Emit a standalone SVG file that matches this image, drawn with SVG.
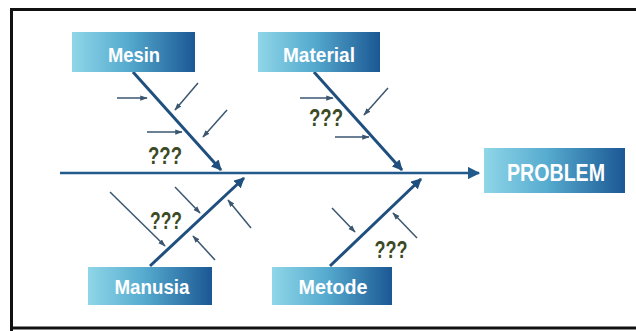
<svg xmlns="http://www.w3.org/2000/svg" width="636" height="331" viewBox="0 0 636 331">
  <style>
    .box { stroke: none; }
    .label { font-family: "Liberation Sans", Arial, sans-serif; font-weight: bold; fill: #ffffff; text-anchor: middle; }
    .q { font-family: "Liberation Sans", Arial, sans-serif; font-weight: bold; font-size: 23px; fill: #3c4a26; text-anchor: middle; }
    .spine { stroke: #235a8c; stroke-width: 2.5; fill: none; }
    .bone { stroke: #1f4f7e; stroke-width: 3; fill: none; }
    .twig { stroke: #3a5670; stroke-width: 1.5; fill: none; }
  </style>
  <defs>
    <linearGradient id="boxFill" x1="0" y1="0" x2="1" y2="0">
      <stop offset="0" stop-color="#8fd6e8"/>
      <stop offset="0.45" stop-color="#56abcf"/>
      <stop offset="1" stop-color="#1b5894"/>
    </linearGradient>
    <marker id="headBig" viewBox="0 0 10 10" refX="9" refY="5" markerWidth="3.5" markerHeight="3.5" orient="auto">
      <path d="M0,0 L10,5 L0,10 z" fill="#1f4f7e"/>
    </marker>
    <marker id="headSpine" viewBox="0 0 10 10" refX="9" refY="5" markerWidth="5" markerHeight="5" orient="auto">
      <path d="M0,0 L10,5 L0,10 z" fill="#235a8c"/>
    </marker>
    <marker id="headSmall" viewBox="0 0 10 10" refX="9" refY="5" markerWidth="5" markerHeight="5" orient="auto">
      <path d="M0,1.5 L10,5 L0,8.5 z" fill="#3a5670"/>
    </marker>
  </defs>

  <rect x="0" y="0" width="636" height="331" fill="#ffffff"/>
  <!-- frame -->
  <path d="M11.5,331 L11.5,9.5 L636,9.5 M11.5,328 L636,328" stroke="#111111" stroke-width="3" fill="none"/>

  <!-- connectors -->
  <g id="connectors">
    <line class="spine" x1="60" y1="173" x2="479" y2="173" marker-end="url(#headSpine)"/>
    <!-- Mesin bone -->
    <line class="bone" x1="133" y1="72" x2="221" y2="170" marker-end="url(#headBig)"/>
    <line class="twig" x1="117" y1="98" x2="147" y2="98" marker-end="url(#headSmall)"/>
    <line class="twig" x1="147" y1="132" x2="182" y2="132" marker-end="url(#headSmall)"/>
    <line class="twig" x1="198" y1="83" x2="175" y2="110" marker-end="url(#headSmall)"/>
    <line class="twig" x1="227" y1="110" x2="203" y2="137" marker-end="url(#headSmall)"/>
    <!-- Material bone -->
    <line class="bone" x1="314" y1="72" x2="402" y2="170" marker-end="url(#headBig)"/>
    <line class="twig" x1="300" y1="98" x2="333" y2="98" marker-end="url(#headSmall)"/>
    <line class="twig" x1="335" y1="137" x2="369" y2="137" marker-end="url(#headSmall)"/>
    <line class="twig" x1="388" y1="88" x2="364" y2="115" marker-end="url(#headSmall)"/>
    <!-- Manusia bone -->
    <line class="bone" x1="150" y1="266" x2="244" y2="178" marker-end="url(#headBig)"/>
    <line class="twig" x1="110" y1="192" x2="165" y2="246" marker-end="url(#headSmall)"/>
    <line class="twig" x1="175" y1="187" x2="200" y2="213" marker-end="url(#headSmall)"/>
    <line class="twig" x1="251" y1="228" x2="228" y2="200" marker-end="url(#headSmall)"/>
    <line class="twig" x1="215" y1="260" x2="193" y2="236" marker-end="url(#headSmall)"/>
    <!-- Metode bone -->
    <line class="bone" x1="330" y1="266" x2="421" y2="179" marker-end="url(#headBig)"/>
    <line class="twig" x1="332" y1="208" x2="355" y2="232" marker-end="url(#headSmall)"/>
    <line class="twig" x1="417" y1="238" x2="393" y2="213" marker-end="url(#headSmall)"/>
  </g>

  <!-- cause labels -->
  <g id="q-mesin"><text class="q" x="165" y="164" textLength="34" lengthAdjust="spacingAndGlyphs">???</text></g>
  <g id="q-material"><text class="q" x="326" y="126" textLength="34" lengthAdjust="spacingAndGlyphs">???</text></g>
  <g id="q-manusia"><text class="q" x="166" y="229" textLength="32" lengthAdjust="spacingAndGlyphs">???</text></g>
  <g id="q-metode"><text class="q" x="391" y="258" textLength="33" lengthAdjust="spacingAndGlyphs">???</text></g>

  <!-- category nodes -->
  <g id="mesin">
    <rect class="box" x="72" y="32" width="123" height="40" fill="url(#boxFill)"/>
    <text class="label" x="134" y="62" font-size="21" textLength="52" lengthAdjust="spacingAndGlyphs">Mesin</text>
  </g>
  <g id="material">
    <rect class="box" x="258" y="32" width="122" height="40" fill="url(#boxFill)"/>
    <text class="label" x="319" y="62" font-size="21" textLength="72" lengthAdjust="spacingAndGlyphs">Material</text>
  </g>
  <g id="manusia">
    <rect class="box" x="88" y="267" width="124" height="38" fill="url(#boxFill)"/>
    <text class="label" x="152" y="294" font-size="21" textLength="75" lengthAdjust="spacingAndGlyphs">Manusia</text>
  </g>
  <g id="metode">
    <rect class="box" x="272" y="267" width="120" height="38" fill="url(#boxFill)"/>
    <text class="label" x="333" y="294" font-size="21" textLength="69" lengthAdjust="spacingAndGlyphs">Metode</text>
  </g>
  <g id="problem">
    <rect class="box" x="484" y="148" width="141" height="45" fill="url(#boxFill)"/>
    <text class="label" x="556" y="181" font-size="23" textLength="98" lengthAdjust="spacingAndGlyphs">PROBLEM</text>
  </g>
</svg>
